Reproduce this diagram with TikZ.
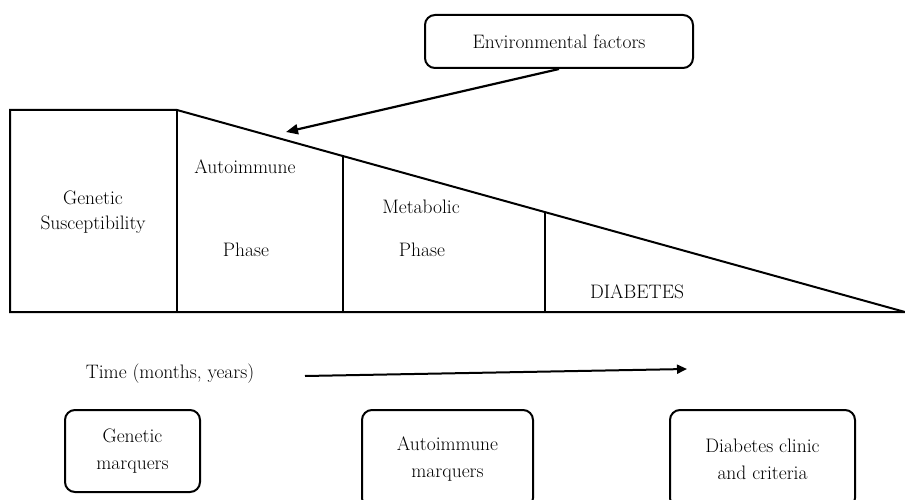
\documentclass[tikz,border=0pt]{standalone}
\usetikzlibrary{arrows.meta,calc}
\begin{document}
\begin{tikzpicture}[x=1pt,y=-1pt,line width=2pt,
  lbl/.style={font=\fontsize{19.5}{27}\selectfont,inner sep=0pt,align=center},
  rbox/.style={draw,rounded corners=10pt,line width=2pt,
    font=\fontsize{19.5}{27}\selectfont,align=center,inner sep=0pt},
  bigarrow/.style={-{Triangle[length=12pt,width=10pt]},line width=2.2pt},
]
\clip (0,0) rectangle (905,500);
\fill[white] (0,0) rectangle (905,500);

% staged wedge: rectangle for genetic susceptibility, then a falling slope
\coordinate (tl) at (10,110);
\coordinate (apex) at (177,110);
\coordinate (bl) at (10,312);
\coordinate (br) at (905,312);
\draw[line join=miter] (apex) -- (tl) -- (bl) -- (br) -- cycle;

% phase dividers
\coordinate (d1) at (apex);
\coordinate (d2) at ($(apex)!0.2280!(br)$);
\coordinate (d3) at ($(apex)!0.5055!(br)$);
\draw (d1) -- (d1 |- bl);
\draw (d2) -- (d2 |- bl);
\draw (d3) -- (d3 |- bl);

% phase labels
\node[lbl] (gen1) at (93,198) {Genetic};
\node[lbl] (gen2) at (93,225) {Susceptibility};
\node[lbl] (aut1) at (245,167) {Autoimmune};
\node[lbl] (aut2) at (246,250) {Phase};
\node[lbl] (met1) at (421,207) {Metabolic};
\node[lbl] (met2) at (422,250) {Phase};
\node[lbl] (dia) at (637,292) {DIABETES};

% environmental trigger
\node[rbox,minimum width=268pt,minimum height=53pt] (env) at (559,41.5) {Environmental factors};
\coordinate (envhit) at (286,132);
\draw[bigarrow] (env.south) -- (envhit);

% time axis
\node[lbl] (time) at (170,374) {Time (months, years)};
\coordinate (t0) at (305,376);
\coordinate (t1) at (687,369);
\draw[-{Triangle[length=10pt,width=9pt]},line width=2pt] (t0) -- (t1);

% markers
\node[rbox,minimum width=135pt,minimum height=82pt] (gm) at (132.5,451) {Genetic\\marquers};
\node[rbox,minimum width=171pt,minimum height=98pt] (am) at (447.5,459) {Autoimmune\\marquers};
\node[rbox,minimum width=185pt,minimum height=98pt] (dc) at (762.5,459) {Diabetes clinic\\and criteria};
\end{tikzpicture}
\end{document}
